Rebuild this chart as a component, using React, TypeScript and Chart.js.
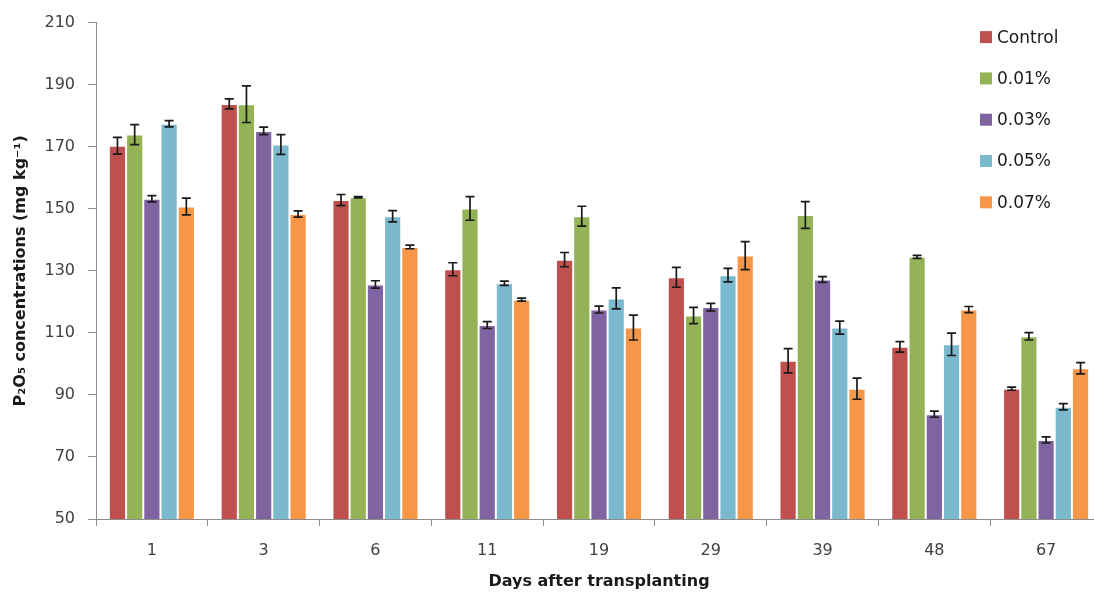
import React, { useEffect, useRef } from "react";
import { Chart, registerables } from "chart.js";

Chart.register(...registerables);

const categories = ["1", "3", "6", "11", "19", "29", "39", "48", "67"];
const seriesNames = ["Control", "0.01%", "0.03%", "0.05%", "0.07%"];
const seriesColors = ["#C0504D", "#94B356", "#8064A2", "#7BB9CF", "#F79646"];

const control = [170.3, 183.8, 152.8, 130.5, 133.6, 127.9, 101.0, 105.5, 92.0];
const controlErr = [2.7, 1.6, 1.8, 2.1, 2.3, 3.2, 3.9, 1.7, 0.5];
const p001 = [173.9, 183.7, 153.7, 150.1, 147.6, 115.6, 148.0, 134.5, 108.9];
const p001Err = [3.2, 5.9, 0.2, 3.8, 3.2, 2.6, 4.3, 0.5, 1.2];
const p003 = [153.2, 175.1, 125.6, 112.5, 117.5, 118.3, 127.2, 83.8, 75.5];
const p003Err = [1.0, 1.2, 1.2, 1.1, 1.1, 1.2, 0.9, 1.0, 1.0];
const p005 = [177.4, 170.7, 147.6, 126.0, 121.1, 128.6, 111.7, 106.3, 86.2];
const p005Err = [1.0, 3.2, 1.8, 0.7, 3.4, 2.2, 2.1, 3.6, 1.0];
const p007 = [150.7, 148.3, 137.7, 120.7, 111.7, 134.9, 92.0, 117.5, 98.6];
const p007Err = [2.7, 1.0, 0.6, 0.5, 4.0, 4.5, 3.4, 1.0, 1.8];

const seriesValues = [control, p001, p003, p005, p007];
const seriesErrors = [controlErr, p001Err, p003Err, p005Err, p007Err];

const yMin = 50;
const yMax = 210;
const yStep = 20;

const FONT = "'DejaVu Sans', Verdana, sans-serif";

const errorBarPlugin = {
  id: "errorBars",
  afterDatasetsDraw(chart: any) {
    const ctx = chart.ctx;
    const yScale = chart.scales.y;
    ctx.save();
    ctx.strokeStyle = "#1a1a1a";
    ctx.lineWidth = 1.7;
    chart.data.datasets.forEach((ds: any, i: number) => {
      const meta = chart.getDatasetMeta(i);
      const errs = seriesErrors[i];
      meta.data.forEach((el: any, j: number) => {
        const v = ds.data[j];
        const e = errs[j];
        const x = el.x;
        const yt = yScale.getPixelForValue(v + e);
        const yb = yScale.getPixelForValue(v - e);
        const cap = 4.5;
        ctx.beginPath();
        ctx.moveTo(x, yt);
        ctx.lineTo(x, yb);
        ctx.moveTo(x - cap, yt);
        ctx.lineTo(x + cap, yt);
        ctx.moveTo(x - cap, yb);
        ctx.lineTo(x + cap, yb);
        ctx.stroke();
      });
    });
    ctx.restore();
  },
};

const legendPlugin = {
  id: "customLegend",
  afterDraw(chart: any) {
    const ctx = chart.ctx;
    const area = chart.chartArea;
    const x0 = area.right - 122;
    const y0 = area.top + 14.5;
    const gap = 41.3;
    ctx.save();
    ctx.font = `17px ${FONT}`;
    ctx.textBaseline = "middle";
    ctx.textAlign = "left";
    seriesNames.forEach((name, i) => {
      const cy = y0 + i * gap;
      ctx.fillStyle = seriesColors[i];
      ctx.fillRect(x0, cy - 6, 12, 12);
      ctx.fillStyle = "#1a1a1a";
      ctx.fillText(name, x0 + 17, cy + 1);
    });
    ctx.restore();
  },
};

export default function App() {
  const canvasRef = useRef<HTMLCanvasElement | null>(null);

  useEffect(() => {
    const canvas = canvasRef.current;
    if (!canvas) return;
    const chart = new Chart(canvas, {
      type: "bar",
      data: {
        labels: categories,
        datasets: seriesNames.map((name, i) => ({
          label: name,
          data: seriesValues[i],
          backgroundColor: seriesColors[i],
          borderColor: "rgba(255,255,255,0.22)",
          borderWidth: 1,
          categoryPercentage: 0.77,
          barPercentage: 1.0,
        })),
      },
      options: {
        animation: false,
        responsive: false,
        maintainAspectRatio: false,
        layout: { padding: { left: 0, top: 21, right: 0, bottom: 0 } },
        plugins: {
          legend: { display: false },
          tooltip: { enabled: false },
        },
        scales: {
          x: {
            type: "category",
            offset: true,
            grid: {
              offset: true,
              drawOnChartArea: false,
              drawTicks: true,
              tickLength: 7,
              color: "#8c8c8c",
            },
            border: { color: "#8c8c8c", width: 1 },
            ticks: {
              color: "#404040",
              font: { family: FONT, size: 16 },
              padding: 15,
              maxRotation: 0,
            },
            title: {
              display: true,
              text: "Days after transplanting",
              color: "#1a1a1a",
              font: { family: FONT, size: 16, weight: "bold" },
              padding: { top: 0, bottom: 4 },
            },
            afterFit(scale: any) {
              scale.height = 76;
            },
          },
          y: {
            min: yMin,
            max: yMax,
            grid: {
              drawOnChartArea: false,
              drawTicks: true,
              tickLength: 8,
              color: "#8c8c8c",
            },
            border: { color: "#8c8c8c", width: 1 },
            ticks: {
              stepSize: yStep,
              color: "#404040",
              font: { family: FONT, size: 16 },
              padding: 13,
            },
            title: {
              display: true,
              text: "P₂O₅ concentrations (mg kg⁻¹)",
              color: "#1a1a1a",
              font: { family: FONT, size: 16, weight: "bold" },
              padding: { top: 11, bottom: 0 },
            },
            afterFit(scale: any) {
              scale.width = 96;
            },
          },
        },
      },
      plugins: [errorBarPlugin, legendPlugin],
    });
    return () => chart.destroy();
  }, []);

  return (
    <div
      style={{
        position: "absolute",
        left: 0,
        top: 0,
        width: 1094,
        height: 595,
        overflow: "hidden",
        background: "#fff",
      }}
    >
      <canvas
        ref={canvasRef}
        width={1102}
        height={595}
        style={{ width: 1102, height: 595, display: "block" }}
      />
    </div>
  );
}
